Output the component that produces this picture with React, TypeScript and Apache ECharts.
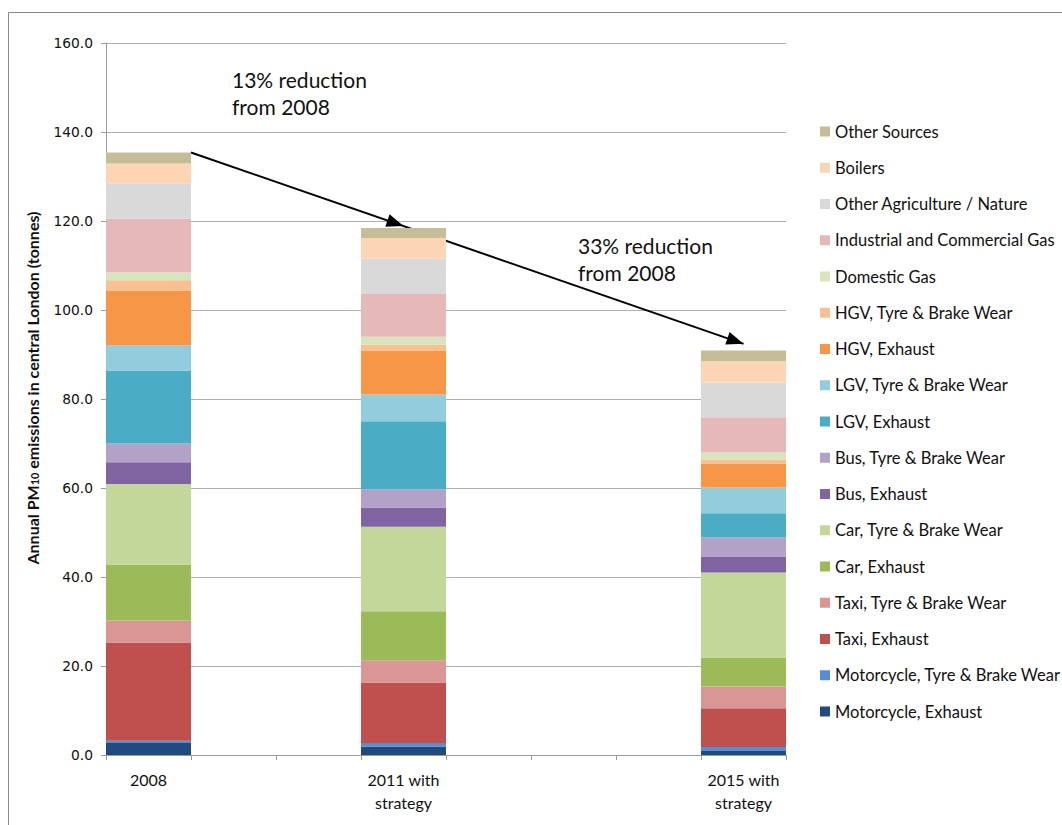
import React, { useEffect, useRef } from "react";
import * as echarts from "echarts";

// Category slots are one per year so the scenarios sit at their real spacing.
const years = ["2008", "2009", "2010", "2011", "2012", "2013", "2014", "2015"];
const yearLabels = ["2008", "", "", "2011 with\nstrategy", "", "", "", "2015 with\nstrategy"];
const scenarioSlots = [0, 3, 7];

// Annual PM10 emissions (tonnes) per source, for 2008 / 2011 / 2015 scenarios.
const motorcycleExhaust = [2.7, 1.9, 0.9];
const motorcycleTyre = [0.5, 0.8, 0.9];
const taxiExhaust = [22.1, 13.6, 8.7];
const taxiTyre = [4.9, 5.0, 4.9];
const carExhaust = [12.6, 11.0, 6.5];
const carTyre = [18.1, 19.0, 19.1];
const busExhaust = [4.9, 4.3, 3.6];
const busTyre = [4.2, 4.1, 4.3];
const lgvExhaust = [16.4, 15.3, 5.4];
const lgvTyre = [5.7, 6.0, 5.8];
const hgvExhaust = [12.3, 9.9, 5.4];
const hgvTyre = [2.3, 1.3, 0.9];
const domesticGas = [1.8, 1.8, 1.6];
const industrialGas = [12.0, 9.6, 7.9];
const otherAgriculture = [8.0, 7.9, 7.8];
const boilers = [4.4, 4.7, 4.8];
const otherSources = [2.5, 2.2, 2.4];

const yTicks = { min: 0, max: 160, interval: 20 };

const sources = [
  { name: "Motorcycle, Exhaust", color: "#214a7e", values: motorcycleExhaust },
  { name: "Motorcycle, Tyre & Brake Wear", color: "#558ed5", values: motorcycleTyre },
  { name: "Taxi, Exhaust", color: "#c0504d", values: taxiExhaust },
  { name: "Taxi, Tyre & Brake Wear", color: "#d99694", values: taxiTyre },
  { name: "Car, Exhaust", color: "#9bbb59", values: carExhaust },
  { name: "Car, Tyre & Brake Wear", color: "#c4d79b", values: carTyre },
  { name: "Bus, Exhaust", color: "#8064a2", values: busExhaust },
  { name: "Bus, Tyre & Brake Wear", color: "#b3a2c7", values: busTyre },
  { name: "LGV, Exhaust", color: "#4bacc6", values: lgvExhaust },
  { name: "LGV, Tyre & Brake Wear", color: "#93cddd", values: lgvTyre },
  { name: "HGV, Exhaust", color: "#f79646", values: hgvExhaust },
  { name: "HGV, Tyre & Brake Wear", color: "#fac090", values: hgvTyre },
  { name: "Domestic Gas", color: "#d7e4bd", values: domesticGas },
  { name: "Industrial and Commercial Gas", color: "#e6b9b8", values: industrialGas },
  { name: "Other Agriculture / Nature", color: "#d9d9d9", values: otherAgriculture },
  { name: "Boilers", color: "#fcd5b5", values: boilers },
  { name: "Other Sources", color: "#c4bd97", values: otherSources },
];

const reductionNotes = ["13% reduction\nfrom 2008", "33% reduction\nfrom 2008"];

const LABEL_FONT = "Lato, 'Open Sans', sans-serif";

function arrowHead(tip: number[], from: number[], len: number, half: number) {
  const dx = tip[0] - from[0];
  const dy = tip[1] - from[1];
  const d = Math.hypot(dx, dy);
  const ux = dx / d;
  const uy = dy / d;
  const bx = tip[0] - ux * len;
  const by = tip[1] - uy * len;
  return [
    [tip[0], tip[1]],
    [bx - uy * half, by + ux * half],
    [bx + uy * half, by - ux * half],
  ];
}

export default function App() {
  const ref = useRef<HTMLDivElement>(null);

  useEffect(() => {
    document.body.style.margin = "0";
    const chart = echarts.init(ref.current!, null, { renderer: "svg" });

    const series = sources.map((s) => ({
      name: s.name,
      type: "bar",
      stack: "total",
      barWidth: "100%",
      itemStyle: { color: s.color },
      emphasis: { disabled: true },
      data: years.map((_, i) => {
        const k = scenarioSlots.indexOf(i);
        return k >= 0 ? s.values[k] : null;
      }),
    }));

    chart.setOption({
      animation: false,
      backgroundColor: "#ffffff",
      grid: { left: 106, top: 43, width: 680, height: 712 },
      legend: {
        orient: "vertical",
        left: 815,
        top: 118,
        itemWidth: 10,
        itemHeight: 10,
        itemGap: 19.25,
        icon: "rect",
        selectedMode: false,
        data: sources.map((s) => s.name).reverse(),
        textStyle: { fontFamily: LABEL_FONT, fontSize: 16.5, color: "#111", lineHeight: 17 },
      },
      xAxis: {
        type: "category",
        data: years,
        boundaryGap: true,
        axisLine: { show: true, lineStyle: { color: "#9a9a9a" } },
        axisTick: { show: true, interval: 0, length: 5, lineStyle: { color: "#9a9a9a" } },
        axisLabel: {
          interval: 0,
          margin: 13,
          fontFamily: LABEL_FONT,
          fontSize: 16,
          lineHeight: 23,
          color: "#111",
          formatter: (_: string, i: number) => yearLabels[i],
        },
      },
      yAxis: {
        type: "value",
        min: yTicks.min,
        max: yTicks.max,
        interval: yTicks.interval,
        axisLine: { show: true, lineStyle: { color: "#9a9a9a" } },
        axisTick: { show: true, length: 5, lineStyle: { color: "#9a9a9a" } },
        axisLabel: {
          margin: 13,
          fontFamily: "'DejaVu Sans', Verdana, sans-serif",
          fontSize: 13.8,
          color: "#111",
          formatter: (v: number) => v.toFixed(1),
        },
        splitLine: { show: true, lineStyle: { color: "#b0b0b0", width: 1 } },
      },
      series,
    });

    // Reduction arrows from the 2008 total, through 2011, down to 2015.
    const totals = scenarioSlots.map((_, k) => sources.reduce((a, s) => a + s.values[k], 0));
    const px = (slot: number, v: number) =>
      chart.convertToPixel({ gridIndex: 0 }, [slot, v]) as number[];
    const band = px(1, 0)[0] - px(0, 0)[0];
    const s0 = px(scenarioSlots[0], totals[0]);
    const start = [s0[0] + band / 2, s0[1]];
    const end = px(scenarioSlots[2], totals[2] + 1.5);
    const midX = px(scenarioSlots[1], 0)[0];
    const mid = [midX, start[1] + ((midX - start[0]) * (end[1] - start[1])) / (end[0] - start[0])];

    chart.setOption({
      graphic: [
        {
          type: "rect",
          shape: { x: 8.5, y: 12.5, width: 1200, height: 1000 },
          style: { fill: "none", stroke: "#8a8a8a", lineWidth: 1 },
          silent: true,
        },
        {
          type: "text",
          x: 30,
          y: 388,
          rotation: Math.PI / 2,
          style: {
            text: "{t|Annual PM}{s|10}{t| emissions in central London (tonnes)}",
            align: "center",
            verticalAlign: "middle",
            fill: "#111",
            rich: {
              t: { fontFamily: LABEL_FONT, fontWeight: "bold", fontSize: 16, lineHeight: 20, verticalAlign: "bottom" },
              s: { fontFamily: LABEL_FONT, fontWeight: "bold", fontSize: 11, lineHeight: 15, verticalAlign: "bottom" },
            },
          },
        },
        {
          type: "text",
          x: 232,
          y: 66,
          style: {
            text: reductionNotes[0],
            fontFamily: LABEL_FONT,
            fontSize: 21,
            lineHeight: 27,
            fill: "#111",
          },
        },
        {
          type: "text",
          x: 578,
          y: 232,
          style: {
            text: reductionNotes[1],
            fontFamily: LABEL_FONT,
            fontSize: 21,
            lineHeight: 27,
            fill: "#111",
          },
        },
        {
          type: "line",
          shape: { x1: start[0], y1: start[1], x2: end[0], y2: end[1] },
          style: { stroke: "#000", lineWidth: 2 },
        },
        {
          type: "polygon",
          shape: { points: arrowHead(mid, start, 17, 6.5) },
          style: { fill: "#000" },
        },
        {
          type: "polygon",
          shape: { points: arrowHead(end, start, 17, 6.5) },
          style: { fill: "#000" },
        },
      ],
    });

    return () => chart.dispose();
  }, []);

  return <div ref={ref} style={{ width: 1062, height: 825, background: "#fff" }} />;
}
